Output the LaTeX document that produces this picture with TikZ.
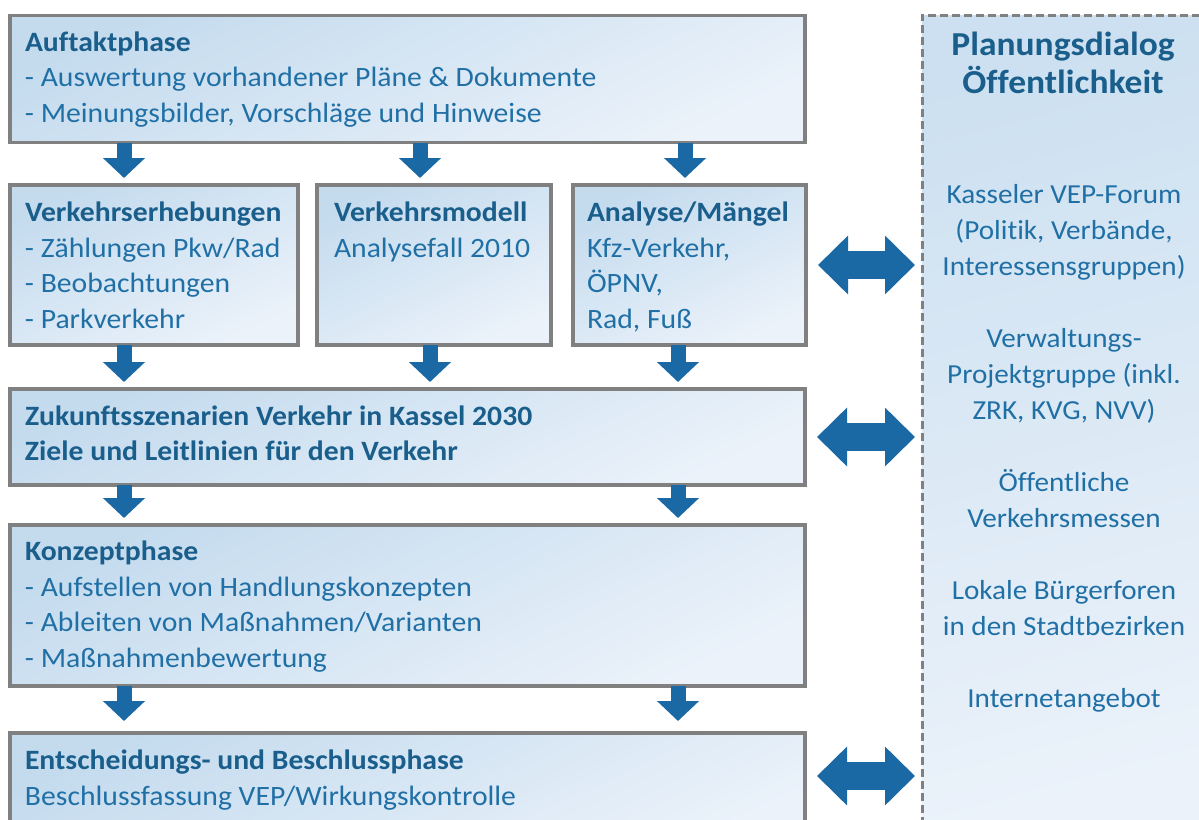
\documentclass[tikz,border=0pt]{standalone}
\usepackage{fontspec}
\setmainfont{Carlito}[FakeStretch=1.06, Ligatures=NoCommon]
\usetikzlibrary{arrows.meta}
\definecolor{titc}{HTML}{1A5E8C}
\definecolor{bodc}{HTML}{2070A6}
\definecolor{arrc}{HTML}{1A69A5}
\definecolor{bordc}{HTML}{808080}
\definecolor{fillA}{HTML}{C4DBEE}
\definecolor{fillB}{HTML}{EBF2FA}
\newcommand\lefttab[1]{\begin{tabular}[t]{@{}l@{}}#1\end{tabular}}
\newcommand\centtab[1]{\begin{tabular}[t]{@{}c@{}}#1\end{tabular}}
\newcommand\ttl[1]{{\color{titc}\bfseries #1}}
\tikzset{
  box/.style={draw=bordc, line width=3.5pt, inner sep=0pt, outer sep=0pt, anchor=north west,
    top color=fillA, bottom color=fillB, shading angle=25},
  panel/.style={draw=bordc, line width=3pt, dash pattern=on 8pt off 4pt, inner sep=0pt, outer sep=0pt,
    anchor=north west, top color=fillA!85!white, bottom color=fillB, shading angle=15},
  lbl/.style={anchor=base west, inner sep=0pt, outer sep=0pt, text=bodc, font=\fontsize{28}{35.6}\selectfont},
  plbl/.style={anchor=base, inner sep=0pt, outer sep=0pt, text=bodc, font=\fontsize{27.5}{36}\selectfont},
  ptit/.style={anchor=base, inner sep=0pt, outer sep=0pt, text=titc, font=\fontsize{33.5}{37}\selectfont\bfseries},
  down/.style={draw=arrc, line width=15pt, -{Triangle[width=41pt,length=20pt]}, shorten >=7pt},
  dbl/.style={draw=arrc, line width=28pt, {Triangle[width=57pt,length=30pt]}-{Triangle[width=57pt,length=30pt]},
    shorten <=12pt, shorten >=7pt},
}
\begin{document}
\begin{tikzpicture}[x=1pt,y=-1pt]
\clip (0,0) rectangle (1199,819);
\fill[white] (0,0) rectangle (1199,819);

% right panel
\node[panel, minimum width=300pt, minimum height=830pt] (pan) at (922,15) {};

% boxes
\node[box, minimum width=795pt, minimum height=127pt] (auf) at (10,15.5) {};
\node[box, minimum width=288pt, minimum height=160pt] (erh) at (10,185) {};
\node[box, minimum width=234pt, minimum height=160pt] (mod) at (317,185) {};
\node[box, minimum width=233pt, minimum height=160pt] (ana) at (573,185) {};
\node[box, minimum width=795pt, minimum height=96pt] (zuk) at (10,389) {};
\node[box, minimum width=795pt, minimum height=161pt] (kon) at (10,525) {};
\node[box, minimum width=795pt, minimum height=120pt] (ent) at (10,733) {};

% arrow columns
\coordinate (c1) at (124,0);
\coordinate (c2) at (420,0);
\coordinate (c3) at (685,0);
\coordinate (d2) at (430,0);
\coordinate (d3) at (678,0);

\draw[down] (auf.south -| c1) -- (erh.north -| c1);
\draw[down] (auf.south -| c2) -- (mod.north -| c2);
\draw[down] (auf.south -| c3) -- (ana.north -| c3);
\draw[down] (erh.south -| c1) -- (zuk.north -| c1);
\draw[down] (mod.south -| d2) -- (zuk.north -| d2);
\draw[down] (ana.south -| d3) -- (zuk.north -| d3);
\draw[down] (zuk.south -| c1) -- (kon.north -| c1);
\draw[down] (zuk.south -| d3) -- (kon.north -| d3);
\draw[down, shorten >=12pt] (kon.south -| c1) -- (ent.north -| c1);
\draw[down, shorten >=12pt] (kon.south -| d3) -- (ent.north -| d3);

% double arrows
\draw[dbl] (ana.east) -- (ana.east -| pan.west);
\draw[dbl] (zuk.east) -- (zuk.east -| pan.west);
\coordinate (entm) at ([yshift=17pt]ent.east);
\draw[dbl] (entm) -- (entm -| pan.west);

% texts
\node[lbl] (tauf) at (25,51) {\lefttab{\ttl{Auftaktphase}\\- Auswertung vorhandener Pläne \& Dokumente\\- Meinungsbilder, Vorschläge und Hinweise}};
\node[lbl] (terh) at (25,221.5) {\lefttab{\ttl{Verkehrserhebungen}\\- Zählungen Pkw/Rad\\- Beobachtungen\\- Parkverkehr}};
\node[lbl] (tmod) at (334,221.5) {\lefttab{\ttl{Verkehrsmodell}\\Analysefall 2010}};
\node[lbl] (tana) at (587,221.5) {\lefttab{\ttl{Analyse/Mängel}\\Kfz-Verkehr,\\ÖPNV,\\Rad, Fuß}};
\node[lbl] (tzuk) at (25,425) {\lefttab{\ttl{Zukunftsszenarien Verkehr in Kassel 2030}\\\ttl{Ziele und Leitlinien für den Verkehr}}};
\node[lbl] (tkon) at (25,560.5) {\lefttab{\ttl{Konzeptphase}\\- Aufstellen von Handlungskonzepten\\- Ableiten von Maßnahmen/Varianten\\- Maßnahmenbewertung}};
\node[lbl] (tent) at (25,769.5) {\lefttab{\ttl{Entscheidungs- und Beschlussphase}\\Beschlussfassung VEP/Wirkungskontrolle}};

\node[ptit] (ptitle) at (1063,55) {\centtab{Planungsdialog\\Öffentlichkeit}};
\node[plbl] (pbody) at (1064,203) {\centtab{Kasseler VEP-Forum\\(Politik, Verbände,\\Interessensgruppen)\\ \\Verwaltungs-\\Projektgruppe (inkl.\\ZRK, KVG, NVV)\\ \\Öffentliche\\Verkehrsmessen\\ \\Lokale Bürgerforen\\in den Stadtbezirken\\ \\Internetangebot}};
\end{tikzpicture}
\end{document}
